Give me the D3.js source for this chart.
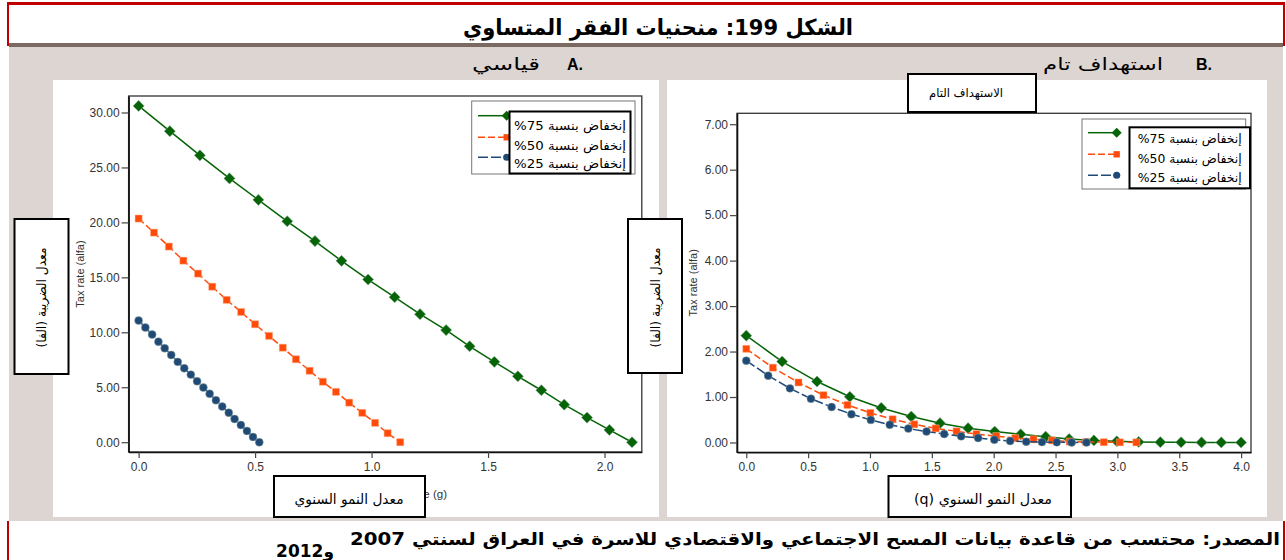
<!DOCTYPE html>
<html><head><meta charset="utf-8">
<script src="https://cdn.jsdelivr.net/npm/d3@7"></script>
<style>body{margin:0;background:#fff;} svg{display:block;}</style>
</head><body>
<script>
// ---------- data ----------
const seriesNames = ["إنخفاض بنسبة \u202A%75\u202C", "إنخفاض بنسبة \u202A%50\u202C", "إنخفاض بنسبة \u202A%25\u202C"];
// Panel A (standard)
const leftX75 = [0,0.134,0.263,0.390,0.514,0.638,0.757,0.871,0.985,1.099,1.208,1.320,1.421,1.527,1.628,1.729,1.827,1.925,2.021,2.118];
const leftY75 = [30.6,28.3,26.1,24.0,22.05,20.1,18.3,16.5,14.8,13.2,11.65,10.2,8.73,7.31,6.0,4.73,3.42,2.24,1.12,0];
const leftX50 = [0,0.066,0.130,0.192,0.255,0.316,0.378,0.440,0.500,0.560,0.619,0.675,0.734,0.791,0.847,0.904,0.960,1.015,1.069,1.123];
const leftY50 = [20.35,19.07,17.8,16.52,15.34,14.15,12.95,11.85,10.73,9.67,8.6,7.55,6.5,5.5,4.58,3.6,2.67,1.76,0.82,0];
const leftX25 = [0,0.029,0.058,0.085,0.112,0.140,0.168,0.196,0.224,0.251,0.278,0.305,0.332,0.359,0.387,0.412,0.439,0.465,0.491,0.518];
const leftY25 = [11.07,10.43,9.8,9.15,8.55,7.94,7.31,6.73,6.15,5.55,4.97,4.4,3.82,3.24,2.69,2.12,1.57,1.03,0.48,0];
// Panel B (full targeting)
const rightX75 = [0,0.29,0.572,0.837,1.091,1.334,1.566,1.793,2.008,2.218,2.42,2.61,2.81,2.995,3.172,3.347,3.515,3.68,3.84,4.0];
const rightY75 = [2.35,1.78,1.34,1.005,0.76,0.57,0.425,0.315,0.24,0.18,0.128,0.077,0.045,0.026,0.012,0.007,0.004,0.002,0.001,0.001];
const rightX50 = [0,0.215,0.422,0.624,0.818,1.003,1.183,1.358,1.531,1.70,1.861,2.021,2.174,2.322,2.472,2.614,2.747,2.89,3.02,3.153];
const rightY50 = [2.06,1.645,1.32,1.04,0.825,0.65,0.51,0.40,0.31,0.245,0.185,0.14,0.095,0.07,0.045,0.02,0.012,0.006,0.003,0.002];
const rightX25 = [0,0.177,0.353,0.523,0.690,0.850,1.007,1.160,1.310,1.457,1.600,1.737,1.874,2.005,2.133,2.263,2.39,2.51,2.63,2.75];
const rightY25 = [1.80,1.47,1.19,0.963,0.78,0.622,0.497,0.39,0.305,0.24,0.185,0.135,0.10,0.06,0.033,0.018,0.008,0.004,0.002,0.001];
const leftXTicks = [0,0.5,1.0,1.5,2.0];
const leftYTicks = [0,5,10,15,20,25,30];
const rightXTicks = [0,0.5,1.0,1.5,2.0,2.5,3.0,3.5,4.0];
const rightYTicks = [0,1,2,3,4,5,6,7];

const titleText = "الشكل 199: منحنيات الفقر المتساوي";
const panelALabel = "قياسي", panelBLabel = "استهداف تام";
const yBoxText = "معدل الضريبة (الفا)";
const xBoxLeft = "معدل النمو السنوي", xBoxRight = "معدل النمو السنوي (q)";
const rightTitleBox = "الاستهداف التام";
const sourceLine1 = "المصدر: محتسب من قاعدة بيانات المسح الاجتماعي والاقتصادي للاسرة في العراق  لسنتي 2007";
const sourceLine2 = "و2012";

// ---------- drawing ----------
const W = 1286, H = 560;
const AR = "'DejaVu Sans', 'Noto Sans', sans-serif";
const LAT = "'Liberation Sans', Arial, sans-serif";
const colors = ["#056405", "#ff4a0a", "#1f4a78"];
const dashes = [null, "7,3", "10,3"];
const markers = [d3.symbolSquare, d3.symbolSquare, d3.symbolCircle];
const mrot = [45, 0, 0];
const msizes = [62, 50, 50];

const svg = d3.select("body").append("svg").attr("width", W).attr("height", H);

// background
svg.append("rect").attr("x", 9).attr("y", 45).attr("width", 1274).attr("height", 476).attr("fill", "#ddd5d2");
// title frame
svg.append("rect").attr("x", 7).attr("y", 2).attr("width", 1278).attr("height", 3).attr("fill", "#c00000");
svg.append("rect").attr("x", 7).attr("y", 2).attr("width", 2).attr("height", 44).attr("fill", "#c00000");
svg.append("rect").attr("x", 1283).attr("y", 2).attr("width", 2).attr("height", 44).attr("fill", "#c00000");
svg.append("rect").attr("x", 9).attr("y", 43).attr("width", 1274).attr("height", 4).attr("fill", "#7a6a62");
svg.append("rect").attr("x", 7).attr("y", 521).attr("width", 2).attr("height", 39).attr("fill", "#c00000");
svg.append("rect").attr("x", 1283).attr("y", 521).attr("width", 2).attr("height", 39).attr("fill", "#c00000");

function arText(x, y, txt, size, opts = {}) {
  const t = svg.append("text").attr("x", x).attr("y", y)
    .attr("direction", "rtl").attr("text-anchor", "middle")
    .attr("font-family", AR).attr("font-size", size)
    .attr("font-weight", opts.bold ? "bold" : "normal")
    .attr("fill", opts.fill || "#000").text(txt);
  if (opts.len) t.attr("textLength", opts.len).attr("lengthAdjust", "spacingAndGlyphs");
  if (opts.transform) t.attr("transform", opts.transform);
  return t;
}

arText(658, 35, titleText, 22, {bold: true, len: 390});

// panel labels
arText(506, 70, panelALabel, 17, {len: 68});
svg.append("text").attr("x", 567).attr("y", 70).attr("font-family", LAT).attr("font-size", 16).attr("font-weight", "bold").text("A.");
arText(1103, 70, panelBLabel, 17, {len: 120});
svg.append("text").attr("x", 1196).attr("y", 70).attr("font-family", LAT).attr("font-size", 16).attr("font-weight", "bold").text("B.");

// panels
svg.append("rect").attr("x", 53).attr("y", 80).attr("width", 606).attr("height", 437).attr("fill", "#fff");
svg.append("rect").attr("x", 667).attr("y", 80).attr("width", 600).attr("height", 437).attr("fill", "#fff");

function drawChart(cfg) {
  const g = svg.append("g");
  const x = d3.scaleLinear().domain(cfg.xDom).range([cfg.x0, cfg.x1]);
  const y = d3.scaleLinear().domain(cfg.yDom).range([cfg.y1, cfg.y0]);
  // frame
  g.append("rect").attr("x", cfg.x0).attr("y", cfg.y0).attr("width", cfg.x1 - cfg.x0).attr("height", cfg.y1 - cfg.y0)
    .attr("fill", "none").attr("stroke", "#333").attr("stroke-width", 1.3);
  const ya = g.append("g").attr("transform", `translate(${cfg.x0},0)`)
    .call(d3.axisLeft(y).tickValues(cfg.yTicks).tickFormat(d3.format(".2f")).tickSize(7).tickSizeOuter(0).tickPadding(2));
  const xa = g.append("g").attr("transform", `translate(0,${cfg.y1})`)
    .call(d3.axisBottom(x).tickValues(cfg.xTicks).tickFormat(d3.format(".1f")).tickSize(6).tickSizeOuter(0).tickPadding(4));
  [ya, xa].forEach(a => {
    a.select(".domain").attr("stroke", "#111").attr("stroke-width", 1.6);
    a.selectAll(".tick line").attr("stroke", "#444").attr("stroke-width", 1.2);
    a.selectAll(".tick text").attr("font-family", LAT).attr("font-size", 12).attr("fill", "#333");
  });
  // y axis title (English, partly under Arabic box)
  g.append("text").attr("transform", `translate(${cfg.yTitleX},${(cfg.y0 + cfg.y1) / 2}) rotate(-90)`)
    .attr("text-anchor", "middle").attr("font-family", LAT).attr("font-size", 11).attr("fill", "#333").text("Tax rate (alfa)");
  // series
  const line = d3.line().x(d => x(d[0])).y(d => y(d[1]));
  cfg.series.forEach((s, i) => {
    const pts = s.xs.map((v, k) => [v, s.ys[k]]);
    g.append("path").datum(pts).attr("d", line).attr("fill", "none")
      .attr("stroke", colors[i]).attr("stroke-width", 1.5).attr("stroke-dasharray", dashes[i]);
    g.selectAll(null).data(pts).join("path")
      .attr("transform", d => `translate(${x(d[0])},${y(d[1])}) rotate(${mrot[i]})`)
      .attr("d", d3.symbol().type(markers[i]).size(msizes[i]))
      .attr("fill", colors[i]).attr("stroke", i === 1 ? "#ffb08a" : "#8fa79a").attr("stroke-opacity", 0.6).attr("stroke-width", 0.8);
  });
  // legend
  const L = cfg.legend;
  g.append("rect").attr("x", L.x).attr("y", L.y).attr("width", L.w).attr("height", L.h)
    .attr("fill", "#fff").attr("stroke", "#777").attr("stroke-width", 1);
  L.rows.forEach((ry, i) => {
    g.append("line").attr("x1", L.lx0).attr("x2", L.lx1).attr("y1", ry).attr("y2", ry)
      .attr("stroke", colors[i]).attr("stroke-width", 1.5).attr("stroke-dasharray", dashes[i]);
    g.append("path").attr("transform", `translate(${L.lx1},${ry}) rotate(${mrot[i]})`)
      .attr("d", d3.symbol().type(markers[i]).size(msizes[i] * 0.8)).attr("fill", colors[i]);
  });
  const O = cfg.overlay;
  g.append("rect").attr("x", O.x).attr("y", O.y).attr("width", O.w).attr("height", O.h)
    .attr("fill", "#fff").attr("stroke", "#000").attr("stroke-width", 2);
  seriesNames.forEach((n, i) => {
    arText(O.x + O.w / 2, O.ty[i], n, 12.5, {len: O.tw});
  });
}

drawChart({
  xDom: [-0.043, 2.16], yDom: [-0.89, 31.5], x0: 128.6, x1: 641.8, y0: 96, y1: 452,
  xTicks: leftXTicks, yTicks: leftYTicks, yTitleX: 84,
  series: [{xs: leftX75, ys: leftY75}, {xs: leftX50, ys: leftY50}, {xs: leftX25, ys: leftY25}],
  legend: {x: 471.7, y: 101, w: 163.3, h: 73, lx0: 478, lx1: 506.7, rows: [115.7, 137.3, 157.3]},
  overlay: {x: 509.5, y: 111.5, w: 121, h: 62, tw: 112, ty: [129.5, 149.5, 168]}
});
drawChart({
  xDom: [-0.075, 4.08], yDom: [-0.216, 7.24], x0: 737, x1: 1251, y0: 113.3, y1: 452.3,
  xTicks: rightXTicks, yTicks: rightYTicks, yTitleX: 697,
  series: [{xs: rightX75, ys: rightY75}, {xs: rightX50, ys: rightY50}, {xs: rightX25, ys: rightY25}],
  legend: {x: 1082, y: 119, w: 163.7, h: 70, lx0: 1088, lx1: 1116.7, rows: [132.7, 154.3, 175.3]},
  overlay: {x: 1129.5, y: 127.3, w: 120.5, h: 61, tw: 104, ty: [143, 163, 182]}
});

// visible tail of the English x-axis title of panel A (rest hidden under the Arabic box)
svg.append("text").attr("x", 447).attr("y", 498).attr("text-anchor", "end")
  .attr("font-family", LAT).attr("font-size", 11.5).attr("fill", "#333").text("e (g)");

// overlay boxes with Arabic axis titles
function box(x, y, w, h) {
  svg.append("rect").attr("x", x).attr("y", y).attr("width", w).attr("height", h)
    .attr("fill", "#fff").attr("stroke", "#000").attr("stroke-width", 2);
}
box(14.5, 219, 54, 155);
arText(0, 0, yBoxText, 13, {len: 100, transform: "translate(46,297.5) rotate(-90)"});
box(628, 219, 54, 154);
arText(0, 0, yBoxText, 13, {len: 100, transform: "translate(660,297.5) rotate(-90)"});
box(274, 476, 151, 41);
arText(349, 504, xBoxLeft, 14, {len: 109});
box(888.5, 476, 182.5, 41);
arText(983, 504, xBoxRight, 14, {len: 138});
box(908, 74, 128, 38);
arText(966, 97, rightTitleBox, 12, {len: 74});

// source
arText(815, 545, sourceLine1, 17, {bold: true, len: 930});
arText(305, 557, sourceLine2, 17, {bold: true});
</script>
</body></html>
